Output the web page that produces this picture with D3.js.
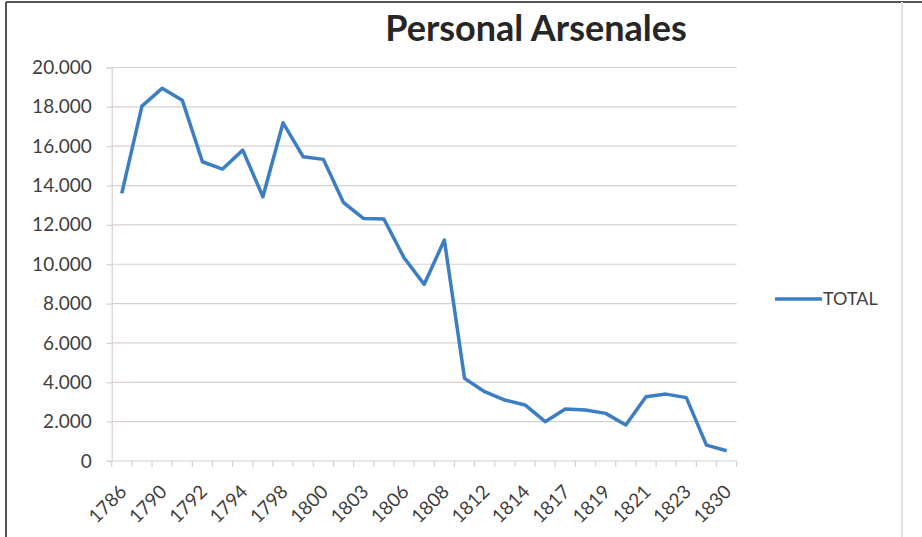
<!DOCTYPE html>
<html>
<head>
<meta charset="utf-8">
<script src="https://cdn.jsdelivr.net/npm/d3@7"></script>
<style>
  body { margin: 0; background: #fff; }
  svg { display: block; }
</style>
</head>
<body>
<svg></svg>
<script>
var width = 922,
    height = 537,
    margin = {
        top: 67.5,
        bottom: 76,
        left: 111.7,
        right: 185.3
    }

// categories (only every other year is labelled on the axis)
var years = ["1786", "1789", "1790", "1791", "1792", "1793", "1794", "1797", "1798", "1799",
    "1800", "1802", "1803", "1805", "1806", "1807", "1808", "1811", "1812", "1813",
    "1814", "1816", "1817", "1818", "1819", "1820", "1821", "1822", "1823", "1824", "1830"]
var total = [13600, 18040, 18940, 18340, 15210, 14840, 15800, 13430, 17190, 15460,
    15330, 13130, 12320, 12300, 10330, 8980, 11230, 4200, 3520, 3100,
    2850, 2000, 2640, 2590, 2420, 1830, 3270, 3400, 3220, 810, 520]
var yTicks = [0, 2000, 4000, 6000, 8000, 10000, 12000, 14000, 16000, 18000, 20000]
var seriesName = "TOTAL"
var title = "Personal Arsenales"

var font = "Lato, 'Open Sans', sans-serif"
var textColor = "#3f3f3f"
var gridColor = "#d8d0cf"
var lineColor = "#3b7ec3"

var canvas = d3.select("svg")
    .attr("width", width)
    .attr("height", height)

// outer frame
canvas.append("rect")
    .attr("x", 0).attr("y", 0).attr("width", width).attr("height", height)
    .attr("fill", "#fff")
canvas.append("line")
    .attr("x1", 6).attr("x2", width).attr("y1", 2).attr("y2", 2)
    .attr("stroke", "#555").attr("stroke-width", 2)
canvas.append("line")
    .attr("x1", 6).attr("x2", 6).attr("y1", 2).attr("y2", height)
    .attr("stroke", "#555").attr("stroke-width", 2)
canvas.append("line")
    .attr("x1", 902).attr("x2", 902).attr("y1", 2).attr("y2", height)
    .attr("stroke", "#e6e2e2").attr("stroke-width", 2)

var xScale = d3.scaleBand()
    .domain(years)
    .range([margin.left, width - margin.right])
    .padding(0)
var yScale = d3.scaleLinear()
    .domain([0, 20000])
    .range([461, margin.top])

// gridlines
canvas.append("g")
    .selectAll("line")
    .data(yTicks.filter(function(d) { return d > 0 }))
    .enter()
    .append("line")
    .attr("x1", margin.left)
    .attr("x2", xScale.range()[1])
    .attr("y1", function(d) { return yScale(d) })
    .attr("y2", function(d) { return yScale(d) })
    .attr("stroke", gridColor)
    .attr("stroke-width", 1.2)

// y axis
var yAxis = canvas.append("g")
    .attr("transform", "translate(" + margin.left + ",0)")
    .call(d3.axisLeft(yScale).tickValues(yTicks).tickSize(5).tickPadding(15)
        .tickFormat(function(d) { return d3.format(",")(d).replace(/,/g, ".") }))
yAxis.select(".domain").attr("stroke", gridColor).attr("stroke-width", 1.2)
yAxis.selectAll(".tick line").attr("stroke", gridColor).attr("stroke-width", 1.2)
yAxis.selectAll("text")
    .attr("font-family", font)
    .attr("font-size", 19)
    .attr("fill", textColor)

// x axis, ticks on band boundaries
var xg = canvas.append("g")
xg.append("line")
    .attr("x1", margin.left - 5).attr("x2", xScale.range()[1])
    .attr("y1", yScale(0)).attr("y2", yScale(0))
    .attr("stroke", gridColor).attr("stroke-width", 1.2)
xg.selectAll(".xtick")
    .data(years.concat(["end"]))
    .enter()
    .append("line")
    .attr("class", "xtick")
    .attr("x1", function(d, i) { return xScale.range()[0] + i * xScale.bandwidth() })
    .attr("x2", function(d, i) { return xScale.range()[0] + i * xScale.bandwidth() })
    .attr("y1", yScale(0))
    .attr("y2", yScale(0) + 6)
    .attr("stroke", gridColor).attr("stroke-width", 1.2)
xg.selectAll(".xlabel")
    .data(years.filter(function(d, i) { return i % 2 == 0 }))
    .enter()
    .append("text")
    .attr("class", "xlabel")
    .attr("transform", function(d) {
        var x = xScale(d) + xScale.bandwidth() / 2 + 6
        return "translate(" + x + "," + (yScale(0) + 32) + ") rotate(-45)"
    })
    .attr("text-anchor", "end")
    .attr("font-family", font)
    .attr("font-size", 19)
    .attr("fill", textColor)
    .text(function(d) { return d })

// series line
var line = d3.line()
    .x(function(d, i) { return xScale(years[i]) + xScale.bandwidth() / 2 })
    .y(function(d) { return yScale(d) })

canvas.append("path")
    .datum(total)
    .attr("d", line)
    .attr("fill", "none")
    .attr("stroke", lineColor)
    .attr("stroke-width", 3.5)
    .attr("stroke-linejoin", "round")

// legend
var legend = canvas.append("g").attr("transform", "translate(775,299)")
legend.append("line")
    .attr("x1", 0).attr("x2", 47).attr("y1", 0).attr("y2", 0)
    .attr("stroke", lineColor).attr("stroke-width", 3.5)
legend.append("text")
    .attr("x", 48).attr("y", 0).attr("dy", "0.35em")
    .attr("font-family", font)
    .attr("font-size", 18)
    .attr("fill", textColor)
    .text(seriesName)

// title
canvas.append("text")
    .attr("x", 536).attr("y", 41)
    .attr("text-anchor", "middle")
    .attr("font-family", font)
    .attr("font-weight", "bold")
    .attr("font-size", 36)
    .attr("fill", "#262626")
    .text(title)
</script>
</body>
</html>
